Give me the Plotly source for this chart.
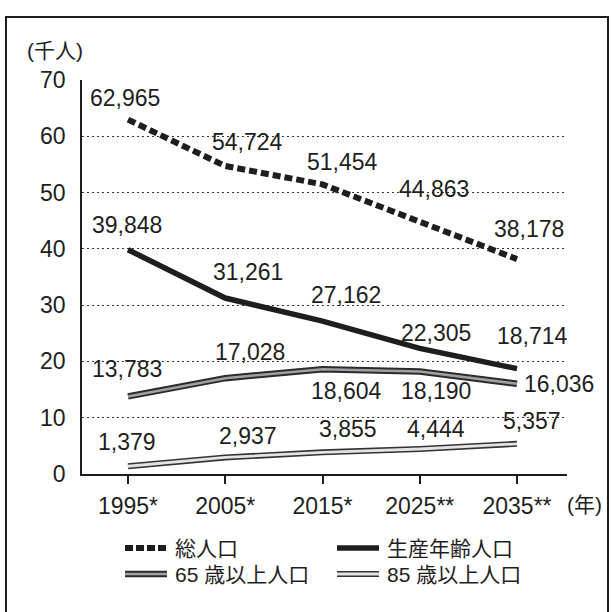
import plotly.graph_objects as go

# 人口推移（千人）
years = [1995, 2005, 2015, 2025, 2035]
year_labels = ["1995*", "2005*", "2015*", "2025**", "2035**"]
total_pop = [62.965, 54.724, 51.454, 44.863, 38.178]
working_pop = [39.848, 31.261, 27.162, 22.305, 18.714]
pop_65 = [13.783, 17.028, 18.604, 18.190, 16.036]
pop_85 = [1.379, 2.937, 3.855, 4.444, 5.357]
total_text = ["62,965", "54,724", "51,454", "44,863", "38,178"]
working_text = ["39,848", "31,261", "27,162", "22,305", "18,714"]
p65_text = ["13,783", "17,028", "18,604", "18,190", "16,036"]
p85_text = ["1,379", "2,937", "3,855", "4,444", "5,357"]
series_names = ["総人口", "生産年齢人口", "65 歳以上人口", "85 歳以上人口"]

FONT = "Liberation Sans, Arial, Noto Sans CJK JP, sans-serif"
INK = "#1e1e1e"

W, H = 611, 612
L, R, T, B = 82, 44, 80, 138
PW, PH = W - L - R, H - T - B


def xp(px):
    return (px - L) / PW


def yp(py):
    return (H - B - py) / PH


fig = go.Figure()

# 総人口: thick dashed line
fig.add_trace(go.Scatter(x=years, y=total_pop, mode="lines",
                         line=dict(color=INK, width=6, dash="8px,4px"),
                         showlegend=False, hoverinfo="skip"))
# 生産年齢人口: thick solid line
fig.add_trace(go.Scatter(x=years, y=working_pop, mode="lines",
                         line=dict(color=INK, width=5.5),
                         showlegend=False, hoverinfo="skip"))
# 65 歳以上人口: dark outline with grey core
fig.add_trace(go.Scatter(x=years, y=pop_65, mode="lines",
                         line=dict(color="#2a2a2a", width=6.5),
                         showlegend=False, hoverinfo="skip"))
fig.add_trace(go.Scatter(x=years, y=pop_65, mode="lines",
                         line=dict(color="#a0a0a0", width=2.5),
                         showlegend=False, hoverinfo="skip"))
# 85 歳以上人口: dark outline with light core
fig.add_trace(go.Scatter(x=years, y=pop_85, mode="lines",
                         line=dict(color="#333333", width=6),
                         showlegend=False, hoverinfo="skip"))
fig.add_trace(go.Scatter(x=years, y=pop_85, mode="lines",
                         line=dict(color="#e4e4e4", width=2.8),
                         showlegend=False, hoverinfo="skip"))

annotations = []

# value labels: (series values, texts, per-point pixel offsets (dx, dy up))
label_sets = [
    (total_pop, total_text, [(-3, 22), (22, 24), (20, 22), (14, 32), (12, 30)]),
    (working_pop, working_text, [(-1, 25), (23, 26), (23, 26), (16, 15), (15, 33)]),
    (pop_65, p65_text, [(-1, 27), (25, 26), (24, -22), (16, -19), (42, 0)]),
    (pop_85, p85_text, [(-1, 24), (23, 21), (25, 23), (16, 20), (15, 23)]),
]
for vals, texts, offs in label_sets:
    for xv, yv, t, (dx, dy) in zip(years, vals, texts, offs):
        annotations.append(dict(x=xv, y=yv, xref="x", yref="y", text=t,
                                showarrow=False, xanchor="center", yanchor="middle",
                                xshift=dx, yshift=dy,
                                font=dict(family=FONT, size=23, color=INK)))

# axis unit labels
annotations.append(dict(x=xp(55), y=yp(50), xref="paper", yref="paper", text="(千人)",
                        showarrow=False, xanchor="center", yanchor="middle",
                        font=dict(family=FONT, size=21, color=INK)))
annotations.append(dict(x=xp(584), y=yp(504), xref="paper", yref="paper", text="(年)",
                        showarrow=False, xanchor="center", yanchor="middle",
                        font=dict(family=FONT, size=21, color=INK)))

shapes = []
# outer frame
shapes.append(dict(type="rect", xref="paper", yref="paper",
                   x0=xp(6), x1=xp(608), y0=yp(625), y1=yp(17),
                   line=dict(color=INK, width=2), fillcolor="rgba(0,0,0,0)", layer="below"))

# legend entries: (name, column x, row y, style)
legend_items = [
    (series_names[0], 125, 548, "dash"),
    (series_names[1], 337, 548, "solid"),
    (series_names[2], 125, 574, "grey"),
    (series_names[3], 337, 574, "light"),
]
for name, lx, ly, style in legend_items:
    x0, x1 = xp(lx), xp(lx + 42)
    y0 = yp(ly)
    if style == "dash":
        shapes.append(dict(type="line", xref="paper", yref="paper", x0=x0, x1=x1, y0=y0, y1=y0,
                           line=dict(color=INK, width=6, dash="8px,3px")))
    elif style == "solid":
        shapes.append(dict(type="line", xref="paper", yref="paper", x0=x0, x1=x1, y0=y0, y1=y0,
                           line=dict(color=INK, width=5.5)))
    elif style == "grey":
        shapes.append(dict(type="line", xref="paper", yref="paper", x0=x0, x1=x1, y0=y0, y1=y0,
                           line=dict(color="#2a2a2a", width=6.5)))
        shapes.append(dict(type="line", xref="paper", yref="paper", x0=x0, x1=x1, y0=y0, y1=y0,
                           line=dict(color="#a0a0a0", width=2.5)))
    else:
        shapes.append(dict(type="line", xref="paper", yref="paper", x0=x0, x1=x1, y0=y0, y1=y0,
                           line=dict(color="#333333", width=6)))
        shapes.append(dict(type="line", xref="paper", yref="paper", x0=x0, x1=x1, y0=y0, y1=y0,
                           line=dict(color="#e4e4e4", width=2.8)))
    annotations.append(dict(x=xp(lx + 48), y=y0, xref="paper", yref="paper", text=name,
                            showarrow=False, xanchor="left", yanchor="middle",
                            font=dict(family=FONT, size=21, color=INK)))

fig.update_layout(
    width=W, height=H,
    margin=dict(l=L, r=R, t=T, b=B),
    paper_bgcolor="white", plot_bgcolor="white",
    showlegend=False,
    annotations=annotations,
    shapes=shapes,
    xaxis=dict(range=[1990.27, 2040.14], tickvals=years, ticktext=year_labels,
               showgrid=False, zeroline=False, showline=True, linecolor=INK, linewidth=1.5,
               ticks="outside", ticklen=8, tickwidth=1.5, tickcolor=INK,
               ticklabelstandoff=3,
               tickfont=dict(family=FONT, size=23, color=INK)),
    yaxis=dict(range=[0, 70], tickvals=[0, 10, 20, 30, 40, 50, 60, 70],
               showgrid=True, gridcolor="#333333", gridwidth=1.3, griddash="2px,3px",
               zeroline=False, showline=True, linecolor=INK, linewidth=1.5,
               ticks="", ticklabelstandoff=10,
               tickfont=dict(family=FONT, size=23, color=INK)),
)

fig.write_html("out.html")
